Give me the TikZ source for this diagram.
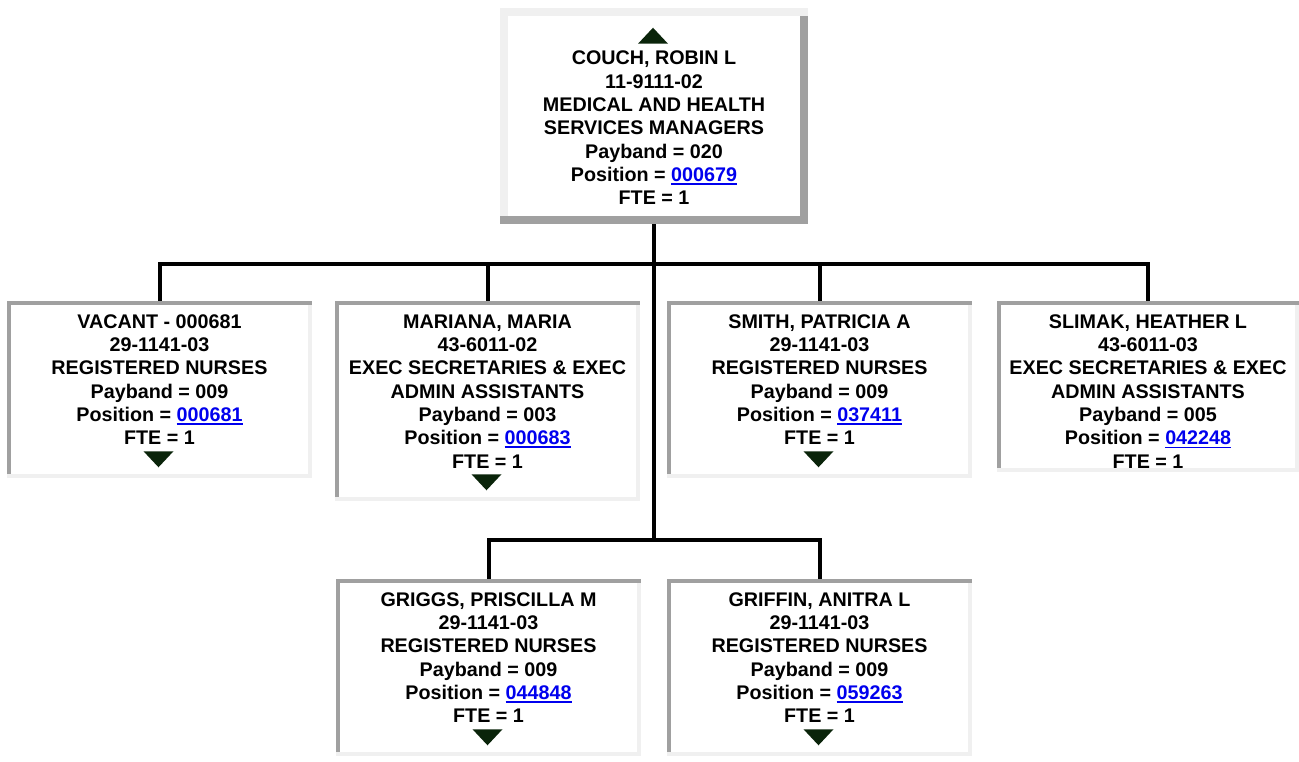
\documentclass[tikz,border=0pt]{standalone}
\usepackage{fontspec}
\setmainfont{Liberation Sans}
\usetikzlibrary{calc,positioning}
\definecolor{edgedark}{RGB}{160,160,160}
\definecolor{edgelight}{RGB}{240,240,240}
\definecolor{linkblue}{RGB}{0,0,238}
\definecolor{tricol}{RGB}{10,36,10}
\newcommand{\poslink}[1]{\textcolor{linkblue}{\setbox0\hbox{#1}\rlap{\rule[-2.6pt]{\wd0}{1.4pt}}\box0}}

\begin{document}
\begin{tikzpicture}[x=0.75pt, y=-0.75pt,
    every node/.style={font=\fontsize{14.8}{17.5}\selectfont\bfseries},
    card/.style={fill=white, inner sep=0pt, minimum width=228.75pt, minimum height=#1},
    info/.style={align=center, inner sep=0pt, anchor=north},
    wire/.style={line width=3pt}]
  \useasboundingbox (0,0) rectangle (1299,761);
  % boxes
  \node[card=162pt, minimum width=231pt] (boss) at (654,116) {};
  \node[card=132.75pt] (vacant)  at (159.5,389.5) {};
  \node[card=150pt]    (mariana) at (487.5,401) {};
  \node[card=132.75pt] (smith)   at (819.5,389.5) {};
  \node[card=128.25pt, minimum width=225.75pt] (slimak) at (1148,386.5) {};
  \node[card=132.75pt] (griggs)  at (488.5,667.5) {};
  \node[card=132.75pt] (griffin) at (819.5,667.5) {};
  % frames
  \foreach \b/\w/\hi/\lo in {boss/8/edgelight/edgedark, vacant/4/edgedark/edgelight,
      mariana/4/edgedark/edgelight, smith/4/edgedark/edgelight, slimak/4/edgedark/edgelight,
      griggs/4/edgedark/edgelight, griffin/4/edgedark/edgelight} {
    \fill[\hi] (\b.north west) rectangle ($(\b.north east)+(0,\w)$);
    \fill[\hi] (\b.north west) rectangle ($(\b.south west)+(\w,-\w)$);
    \fill[\lo] ($(\b.south west)+(0,-\w)$) rectangle (\b.south east);
    \fill[\lo] ($(\b.north east)+(-\w,\w)$) rectangle (\b.south east);
  }
  % texts
  \node[info] (bosstext) at ($(boss.north)+(0,43)$)
    {COUCH, ROBIN L\\11-9111-02\\MEDICAL AND HEALTH\\SERVICES MANAGERS\\Payband = 020\\Position = \poslink{000679}\\FTE = 1};
  \node[info] (vacanttext) at ($(vacant.north)+(0,13.5)$)
    {VACANT - 000681\\29-1141-03\\REGISTERED NURSES\\Payband = 009\\Position = \poslink{000681}\\FTE = 1};
  \node[info] (marianatext) at ($(mariana.north)+(0,13.5)$)
    {MARIANA, MARIA\\43-6011-02\\EXEC SECRETARIES \& EXEC\\ADMIN ASSISTANTS\\Payband = 003\\Position = \poslink{000683}\\FTE = 1};
  \node[info] (smithtext) at ($(smith.north)+(0,13.5)$)
    {SMITH, PATRICIA A\\29-1141-03\\REGISTERED NURSES\\Payband = 009\\Position = \poslink{037411}\\FTE = 1};
  \node[info] (slimaktext) at ($(slimak.north)+(0,13.5)$)
    {SLIMAK, HEATHER L\\43-6011-03\\EXEC SECRETARIES \& EXEC\\ADMIN ASSISTANTS\\Payband = 005\\Position = \poslink{042248}\\FTE = 1};
  \node[info] (griggstext) at ($(griggs.north)+(0,13.5)$)
    {GRIGGS, PRISCILLA M\\29-1141-03\\REGISTERED NURSES\\Payband = 009\\Position = \poslink{044848}\\FTE = 1};
  \node[info] (griffintext) at ($(griffin.north)+(0,13.5)$)
    {GRIFFIN, ANITRA L\\29-1141-03\\REGISTERED NURSES\\Payband = 009\\Position = \poslink{059263}\\FTE = 1};
  % expand arrows
  \fill[tricol] ($(boss.north)+(-16,36)$) -- ++(30,0) -- ++(-15,-16) -- cycle;
  \foreach \b in {vacant,mariana,smith,griggs,griffin}
    \fill[tricol] ($(\b.south)+(-16,-27)$) -- ++(30,0) -- ++(-15,16) -- cycle;
  % connectors
  \coordinate (fork) at (654,264);
  \coordinate (split) at (654,540);
  \draw[wire] (boss.south) -- (split);
  \draw[wire] (vacant.north) |- (fork) -| (slimak.north);
  \draw[wire] (mariana.north) -- (mariana.north |- fork);
  \draw[wire] (smith.north) -- (smith.north |- fork);
  \draw[wire] (griggs.north) |- (split) -| (griffin.north);
\end{tikzpicture}
\end{document}
